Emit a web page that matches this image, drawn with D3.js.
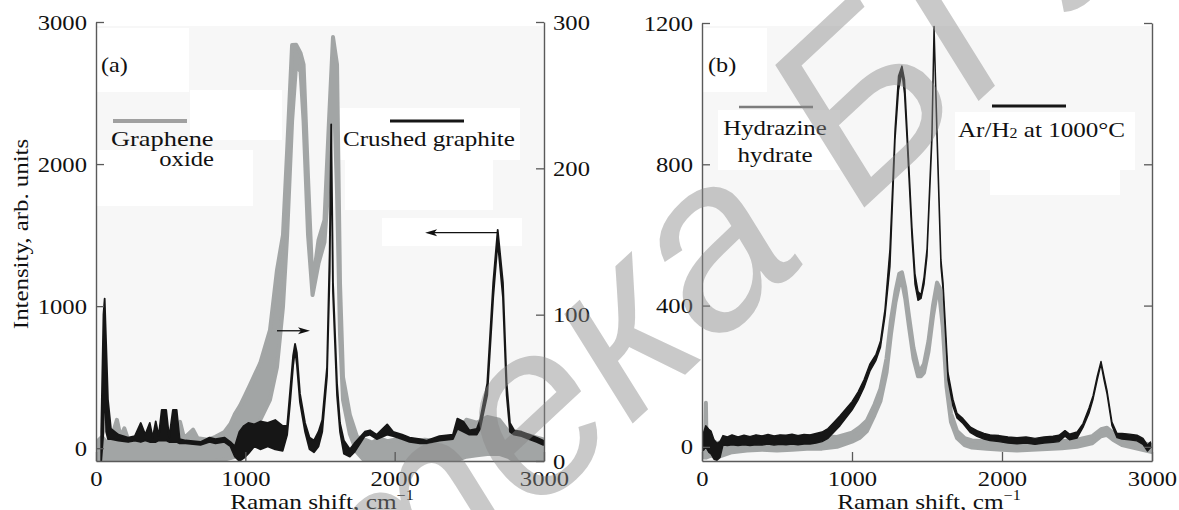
<!DOCTYPE html>
<html><head><meta charset="utf-8">
<script src="https://cdn.jsdelivr.net/npm/d3@7"></script>
<style>body{margin:0;background:#fff} svg text{font-family:"Liberation Serif","Times New Roman",serif;fill:#111}</style>
</head><body><svg id="c" width="1179" height="510"></svg>
<script>
// ---------- DATA ----------
// Panel (a): Graphene oxide (left axis), noisy band upper/lower
const goShift = [20,40,70,100,140,165,190,215,250,295,330,360,400,460,520,563,590,650,680,750,800,860,900,930,965,1000,1031,1100,1165,1212,1252,1280,1313,1340,1370,1390,1420,1450,1490,1530,1560,1587,1614,1634,1654,1700,1748,1800,1850,1900,1950,2000,2100,2200,2300,2400,2480,2550,2620,2700,2760,2800,2900,3000];
const goUpper = [60,80,40,60,200,80,140,60,60,115,50,60,40,80,60,185,70,130,70,60,80,115,170,240,300,375,445,600,831,1254,1500,2098,2838,2840,2780,2700,1900,1150,1465,1606,2300,2894,2700,1160,500,234,79,60,40,70,50,60,40,60,50,80,200,180,220,200,120,80,90,60];
const goLower = [-90,-90,-90,-90,-90,-90,-90,-90,-90,-90,-90,-90,-90,-90,-90,-90,-90,-90,-90,-90,-90,-80,-70,-60,-30,20,60,200,340,571,993,1500,2300,2700,2650,2300,1500,1078,1300,1450,1900,2700,1800,800,340,100,-30,-90,-90,-90,-90,-90,-90,-90,-90,-90,-60,-50,-40,-40,-60,-90,-90,-90];
// Panel (a): Crushed graphite (right axis)
const cgShift = [35,50,58,68,80,100,150,215,260,300,330,360,380,400,420,440,470,490,515,540,560,600,700,760,800,860,900,930,960,990,1020,1060,1100,1150,1200,1250,1280,1300,1320,1333,1345,1366,1400,1430,1460,1490,1515,1547,1565,1575,1587,1614,1634,1660,1700,1730,1800,1835,1880,1950,1990,2050,2100,2170,2215,2300,2390,2420,2460,2500,2550,2572,2620,2660,2690,2725,2750,2772,2800,2850,2900,2950,2995];
const cgUpper = [20,100,111,80,42,22,18,16,17,26,18,26,16,27,17,35,35,16,35,35,15,14,13,16,15,16,13,10,20,24,26,25,27,26,28,24,24,48,72,80,74,46,26,16,14,20,28,64,144,230,122,53,26,14,8,12,20,21,18,25,20,18,16,15,14,17,18,29,27,21,22,28,53,122,158,122,53,26,21,20,18,16,14];
const cgLower = [0,20,60,20,15,15,14,13,14,13,14,13,13,13,14,14,14,13,13,13,12,12,11,13,12,13,10,3,0,2,5,10,8,10,8,7,18,40,65,76,66,40,20,8,6,10,20,58,130,225,115,45,20,5,3,6,17,18,15,18,17,15,13,12,12,14,15,22,20,18,18,22,45,112,150,112,45,20,18,17,15,13,11];
// Panel (b): Hydrazine hydrate
const hhShift = [15,22,26,30,60,100,200,300,400,500,600,700,800,900,1000,1050,1100,1150,1190,1230,1260,1290,1315,1333,1355,1380,1410,1440,1460,1480,1510,1540,1567,1585,1605,1630,1660,1700,1750,1800,1900,2000,2100,2200,2300,2400,2500,2600,2660,2700,2740,2800,2900,3000];
const hhUpper = [15,10,125,15,20,10,25,25,28,25,28,30,30,28,40,55,75,120,165,250,360,440,490,494,450,370,280,225,220,235,300,400,465,450,370,200,95,45,25,18,15,12,10,12,14,16,20,30,50,54,40,25,15,5];
const hhLower = [-30,-30,110,-30,-25,-30,-15,-10,-8,-10,-8,-5,-5,0,15,25,45,90,130,210,320,410,460,470,420,340,250,200,200,210,270,370,440,420,340,170,70,25,5,-2,-5,-8,-10,-8,-6,-4,0,10,30,34,20,5,-5,-15];
// Panel (b): Ar/H2 at 1000°C
const arShift = [10,25,45,60,80,100,120,140,170,200,240,280,320,360,400,440,480,520,560,600,640,680,720,760,800,840,880,920,960,1000,1040,1080,1120,1160,1190,1220,1253,1287,1310,1333,1350,1367,1400,1420,1440,1460,1480,1500,1533,1547,1567,1593,1607,1640,1673,1700,1740,1790,1833,1880,1920,1980,2040,2100,2160,2220,2280,2340,2380,2420,2450,2500,2540,2580,2607,2635,2660,2680,2700,2733,2767,2800,2850,2900,2940,2970,2990];
const arUpper = [40,60,50,45,20,10,15,32,28,34,28,33,29,34,31,35,31,34,33,36,32,35,34,38,42,52,70,88,108,128,155,190,235,262,300,390,560,900,1050,1078,1040,900,620,490,440,430,480,560,890,1190,890,530,465,210,135,95,80,56,46,38,34,32,28,26,28,24,28,30,33,46,36,42,66,110,145,200,242,200,160,70,38,38,36,33,24,5,14];
const arLower = [-10,0,-15,-20,-35,-38,-30,5,4,6,4,6,4,6,5,8,5,7,6,8,6,8,8,11,15,24,42,60,82,104,132,168,215,245,282,370,510,870,1010,1060,1000,870,590,460,415,420,460,540,870,1180,870,510,445,190,115,82,66,40,30,22,18,15,11,9,11,7,11,13,15,30,20,25,55,95,135,190,235,190,150,60,26,22,20,17,7,-12,-2];
// Ticks
const xTicks = [0,1000,2000,3000];
const yTicksA = [0,1000,2000,3000];
const yTicksARight = [0,100,200,300];
const yTicksB = [0,400,800,1200];
// Arrow annotations (panel a, right-axis value, shift from -> to)
const arrowFrom = [1212,2693];
const arrowTo = [1433,2204];
const arrowLevel = [89,156];

// ---------- LAYOUT ----------
const svg = d3.select("#c");
const xA = d3.scaleLinear([0,3000],[96,544]);
const yA = d3.scaleLinear([-90,3000],[461,22]);
const yAR = d3.scaleLinear([0,300],[461,22]);
const xB = d3.scaleLinear([0,3000],[702,1152]);
const yB = d3.scaleLinear([-40,1200],[461,23]);

const GRAY = "#a2a5a5", BLACK = "#161616", AXIS = "#5a5a5a";
const SX = 1.12;
const fmt = d3.format("d");

// backgrounds
svg.append("rect").attr("x",97).attr("y",26).attr("width",447).attr("height",435).attr("fill","#f7f7f7");
svg.append("rect").attr("x",703).attr("y",26).attr("width",449).attr("height",435).attr("fill","#f7f7f7");
// white patches behind labels
[[97,28,92,64],[190,90,92,50],[97,150,156,56],[340,108,180,52],[345,160,148,50],[382,218,140,28],
 [703,28,64,64],[718,110,122,60],[955,112,180,58],[990,170,130,25]].forEach(r=>{
  svg.append("rect").attr("x",r[0]).attr("y",r[1]).attr("width",r[2]).attr("height",r[3]).attr("fill","#fff");
});

const defs = svg.append("defs");
defs.append("clipPath").attr("id","clipA").append("rect").attr("x",96).attr("y",18).attr("width",448).attr("height",443);
defs.append("clipPath").attr("id","clipB").append("rect").attr("x",702).attr("y",18).attr("width",450).attr("height",443);

function band(shift, up, lo, x, y, color, sw, clip){
  const rows = shift.map((s,i)=>({s, hi:up[i], lo:lo[i]}));
  const area = d3.area().x(d=>x(d.s)).y0(d=>y(d.lo)).y1(d=>y(d.hi));
  svg.append("path").datum(rows).attr("d",area).attr("clip-path",`url(#${clip})`)
    .attr("fill",color).attr("stroke",color).attr("stroke-width",sw).attr("stroke-linejoin","round");
}
band(goShift, goUpper, goLower, xA, yA, GRAY, 4, "clipA");
band(cgShift, cgUpper, cgLower, xA, yAR, BLACK, 1.8, "clipA");
band(hhShift, hhUpper, hhLower, xB, yB, GRAY, 4, "clipB");
band(arShift, arUpper, arLower, xB, yB, BLACK, 1.4, "clipB");

// arrows
arrowFrom.forEach((f,i)=>{
  const x1 = xA(f), x2 = xA(arrowTo[i]), yy = yAR(arrowLevel[i]);
  const dir = Math.sign(x2-x1);
  svg.append("line").attr("x1",x1).attr("x2",x2-dir*8).attr("y1",yy).attr("y2",yy).attr("stroke","#111").attr("stroke-width",1.3);
  svg.append("path").attr("d",`M${x2},${yy}L${x2-dir*12},${yy-3.5}L${x2-dir*9},${yy}L${x2-dir*12},${yy+3.5}Z`).attr("fill","#111");
});

// axes
function styleAxis(g, sx){
  g.attr("font-size",22).attr("font-family",null).attr("color",AXIS);
  g.selectAll(".domain").attr("stroke",AXIS).attr("stroke-width",1.4);
  g.selectAll(".tick line").attr("stroke",AXIS).attr("stroke-width",1.3);
  g.selectAll(".tick text").style("fill","#111").each(function(){
    const t = d3.select(this); const x = +t.attr("x")||0;
    t.attr("x", x/sx).attr("transform",`scale(${sx},1)`);
  });
}
function panelAxes(x, yL, yR, yLTicks, yRTicks, rightLabels){
  const gb = svg.append("g").attr("transform","translate(0,461)")
    .call(d3.axisBottom(x).tickValues(xTicks).tickFormat(fmt).tickSizeInner(-9).tickSizeOuter(0).tickPadding(9));
  styleAxis(gb, SX);
  const gl = svg.append("g").attr("transform",`translate(${x(0)},0)`)
    .call(d3.axisLeft(yL).tickValues(yLTicks).tickFormat(fmt).tickSizeInner(-8).tickSizeOuter(0).tickPadding(9));
  styleAxis(gl, SX);
  const axR = d3.axisRight(yR).tickValues(yRTicks).tickFormat(fmt).tickSizeInner(-8).tickSizeOuter(0).tickPadding(9);
  if(!rightLabels) axR.tickFormat(()=> "");
  const gr = svg.append("g").attr("transform",`translate(${x(3000)},0)`).call(axR);
  styleAxis(gr, SX);
}
panelAxes(xA, yA, yAR, yTicksA, yTicksARight, true);
panelAxes(xB, yB, yB, yTicksB, yTicksB, false);

// text helper
function label(str, x, y, anchor, sx, size){
  return svg.append("text").attr("transform",`translate(${x},${y}) scale(${sx},1)`)
    .attr("text-anchor",anchor).attr("font-size",size||22).text(str);
}
label("(a)", 101, 72, "start", 1.1);
label("(b)", 708, 72, "start", 1.1);

// legends
svg.append("line").attr("x1",113).attr("x2",187).attr("y1",121).attr("y2",121).attr("stroke","#a0a0a0").attr("stroke-width",4);
label("Graphene", 111, 146, "start", 1.2);
label("oxide", 214, 166, "end", 1.12);
svg.append("line").attr("x1",390).attr("x2",464).attr("y1",121).attr("y2",121).attr("stroke",BLACK).attr("stroke-width",3);
label("Crushed graphite", 343, 146, "start", 1.14);

svg.append("line").attr("x1",739).attr("x2",813).attr("y1",107).attr("y2",107).attr("stroke","#7c7c7c").attr("stroke-width",2.5);
label("Hydrazine", 775, 135, "middle", 1.13);
label("hydrate", 775, 162, "middle", 1.14);
svg.append("line").attr("x1",992).attr("x2",1066).attr("y1",106).attr("y2",106).attr("stroke",BLACK).attr("stroke-width",3);
const ar = label("", 958, 137, "start", 1.14);
ar.append("tspan").text("Ar/H");
ar.append("tspan").attr("font-size",14).attr("dy",1).text("2");
ar.append("tspan").attr("dy",-1).text(" at 1000°C");

// axis titles
function xTitle(cx){
  const t = label("", cx, 509, "middle", 1.15);
  t.append("tspan").text("Raman shift, cm");
  t.append("tspan").attr("font-size",14).attr("dy",-9).text("−1");
}
xTitle(322); xTitle(929);
svg.append("text").attr("transform","translate(28,234) rotate(-90) scale(1.13,1)")
  .attr("text-anchor","middle").attr("font-size",22).text("Intensity, arb. units");

// watermark
svg.append("text").attr("transform","translate(-215,1214) rotate(-43)")
  .attr("font-size",240).attr("font-style","italic")
  .style("font-family","'Liberation Sans', Arial, sans-serif").style("fill","#888").attr("fill-opacity",0.45)
  .text("Библиотека БГУ");
</script></body></html>
